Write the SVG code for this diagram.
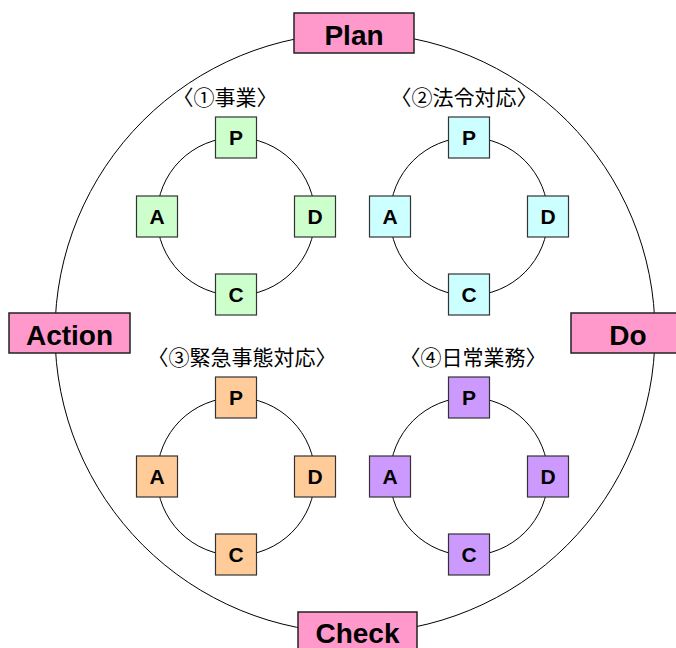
<svg xmlns="http://www.w3.org/2000/svg" width="676" height="648" viewBox="0 0 676 648">
<style>
.ring{fill:none;stroke:#000;stroke-width:1}
.big{fill:#FF99CC;stroke:#222;stroke-width:1.5}
.sq{stroke:#333;stroke-width:1.2}
.g{fill:#CCFFCC}.c{fill:#CCFFFF}.o{fill:#FFCC99}.p{fill:#CC99FF}
.bt{font-family:"Liberation Sans",Arial,sans-serif;font-weight:bold;font-size:28px;text-anchor:middle;fill:#000}
.st{font-family:"Liberation Sans",Arial,sans-serif;font-weight:bold;font-size:21px;text-anchor:middle;fill:#000}
.lb{font-family:"Noto Sans CJK JP",sans-serif;font-size:21px;text-anchor:middle;fill:#000}
</style>
<g id="connectors">
<circle class="ring" cx="355" cy="333" r="300"/>
<circle class="ring" cx="236" cy="216.5" r="79"/>
<circle class="ring" cx="469" cy="216.5" r="79"/>
<circle class="ring" cx="236" cy="476.5" r="79"/>
<circle class="ring" cx="469" cy="476.5" r="79"/>
</g>
<g id="plan"><rect class="big" x="294" y="13" width="120" height="40"/><text class="bt" x="354" y="45">Plan</text></g>
<g id="action"><rect class="big" x="9" y="313" width="121" height="40"/><text class="bt" x="69.5" y="345">Action</text></g>
<g id="do"><rect class="big" x="571" y="313" width="114" height="40"/><text class="bt" x="628" y="345">Do</text></g>
<g id="check"><rect class="big" x="298" y="612" width="119" height="40"/><text class="bt" x="357.5" y="643">Check</text></g>

<g id="label1"><text class="lb" x="225" y="105">〈①事業〉</text></g>
<g id="label2"><text class="lb" x="464" y="105">〈②法令対応〉</text></g>
<g id="label3"><text class="lb" x="242" y="365">〈③緊急事態対応〉</text></g>
<g id="label4"><text class="lb" x="473" y="365">〈④日常業務〉</text></g>

<g id="c1-p"><rect class="sq g" x="215.5" y="117" width="41" height="41"/><text class="st" x="236" y="145">P</text></g>
<g id="c1-d"><rect class="sq g" x="294.5" y="196" width="41" height="41"/><text class="st" x="315" y="224">D</text></g>
<g id="c1-c"><rect class="sq g" x="215.5" y="274" width="41" height="41"/><text class="st" x="236" y="302">C</text></g>
<g id="c1-a"><rect class="sq g" x="136.5" y="196" width="41" height="41"/><text class="st" x="157" y="224">A</text></g>

<g id="c2-p"><rect class="sq c" x="448.5" y="117" width="41" height="41"/><text class="st" x="469" y="145">P</text></g>
<g id="c2-d"><rect class="sq c" x="527.5" y="196" width="41" height="41"/><text class="st" x="548" y="224">D</text></g>
<g id="c2-c"><rect class="sq c" x="448.5" y="274" width="41" height="41"/><text class="st" x="469" y="302">C</text></g>
<g id="c2-a"><rect class="sq c" x="369.5" y="196" width="41" height="41"/><text class="st" x="390" y="224">A</text></g>

<g id="c3-p"><rect class="sq o" x="215.5" y="377" width="41" height="41"/><text class="st" x="236" y="405">P</text></g>
<g id="c3-d"><rect class="sq o" x="294.5" y="456" width="41" height="41"/><text class="st" x="315" y="484">D</text></g>
<g id="c3-c"><rect class="sq o" x="215.5" y="534" width="41" height="41"/><text class="st" x="236" y="562">C</text></g>
<g id="c3-a"><rect class="sq o" x="136.5" y="456" width="41" height="41"/><text class="st" x="157" y="484">A</text></g>

<g id="c4-p"><rect class="sq p" x="448.5" y="377" width="41" height="41"/><text class="st" x="469" y="405">P</text></g>
<g id="c4-d"><rect class="sq p" x="527.5" y="456" width="41" height="41"/><text class="st" x="548" y="484">D</text></g>
<g id="c4-c"><rect class="sq p" x="448.5" y="534" width="41" height="41"/><text class="st" x="469" y="562">C</text></g>
<g id="c4-a"><rect class="sq p" x="369.5" y="456" width="41" height="41"/><text class="st" x="390" y="484">A</text></g>
</svg>
